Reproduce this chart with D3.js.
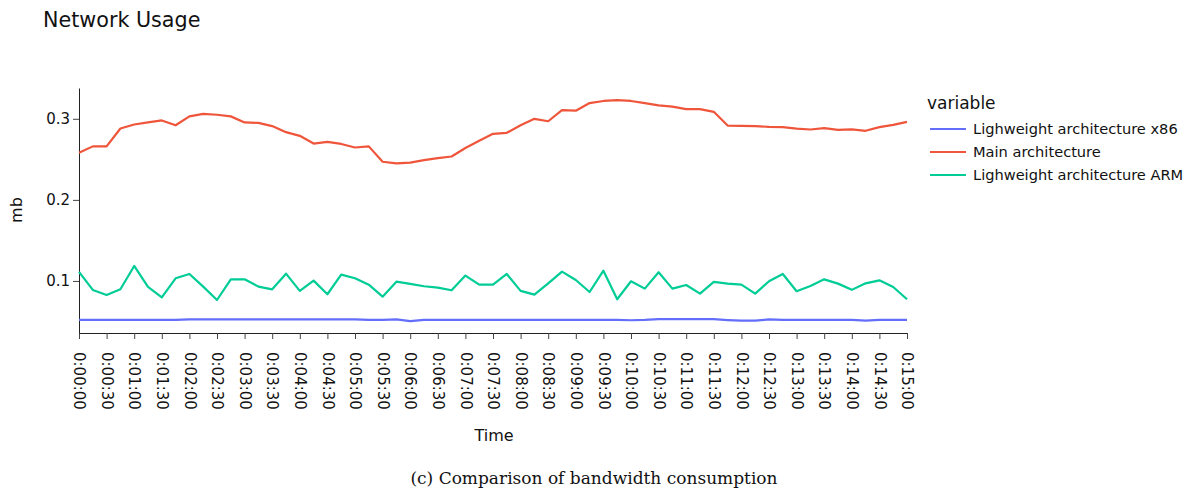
<!DOCTYPE html>
<html>
<head>
<meta charset="utf-8">
<script src="https://cdn.jsdelivr.net/npm/d3@7"></script>
<style>
  body { margin: 0; background: #fff; }
  svg text { font-family: "DejaVu Sans", Verdana, sans-serif; fill: #111; }
</style>
</head>
<body>
<div id="chart"></div>
<script>
// time in seconds, one sample every 15 s
var seconds = d3.range(0, 901, 15)

var x86 = [0.052, 0.052, 0.052, 0.052, 0.052, 0.052, 0.052, 0.052, 0.0525, 0.0525,
           0.0525, 0.0525, 0.0525, 0.0525, 0.0525, 0.0525, 0.0525, 0.0525, 0.0525, 0.0525,
           0.0525, 0.052, 0.052, 0.0525, 0.0505, 0.052, 0.052, 0.052, 0.052, 0.052,
           0.052, 0.052, 0.052, 0.052, 0.052, 0.052, 0.052, 0.052, 0.052, 0.052,
           0.0515, 0.052, 0.053, 0.0528, 0.0528, 0.0528, 0.0528, 0.0518, 0.051, 0.051,
           0.0525, 0.052, 0.052, 0.052, 0.052, 0.052, 0.052, 0.051, 0.052, 0.052, 0.052]

var mainArch = [0.258, 0.266, 0.266, 0.288, 0.293, 0.2955, 0.298, 0.292, 0.303, 0.306,
                0.305, 0.303, 0.2955, 0.295, 0.291, 0.2835, 0.279, 0.2695, 0.2716, 0.269,
                0.2646, 0.266, 0.247, 0.245, 0.246, 0.249, 0.2515, 0.2535, 0.264, 0.273,
                0.2815, 0.2827, 0.292, 0.300, 0.297, 0.3107, 0.310, 0.3194, 0.322, 0.323,
                0.322, 0.3194, 0.3165, 0.315, 0.312, 0.312, 0.3086, 0.2917, 0.2914, 0.291,
                0.290, 0.2897, 0.288, 0.2868, 0.2885, 0.2864, 0.287, 0.2852, 0.2897, 0.2926, 0.2963]

var arm = [0.1111, 0.0889, 0.0827, 0.0897, 0.1185, 0.0926, 0.0798, 0.1033, 0.1086, 0.093,
           0.0765, 0.102, 0.102, 0.093, 0.0897, 0.109, 0.0877, 0.1004, 0.0836, 0.1078,
           0.1033, 0.0954, 0.0806, 0.0991, 0.0963, 0.0935, 0.0918, 0.0885, 0.1066, 0.0954,
           0.0954, 0.1086, 0.0877, 0.0831, 0.0971, 0.1115, 0.1012, 0.0864, 0.1127, 0.0774,
           0.0996, 0.0905, 0.1107, 0.0905, 0.095, 0.0843, 0.0988, 0.0967, 0.0954, 0.0843,
           0.0996, 0.1086, 0.0873, 0.0938, 0.102, 0.0967, 0.089, 0.0971, 0.1008, 0.0926, 0.0774]

var seriesNames = ["Lighweight architecture x86", "Main architecture", "Lighweight architecture ARM"]
var seriesColors = ["#636efa", "#EF553B", "#00cc96"]
var yTicks = [0.1, 0.2, 0.3]
var xTicks = d3.range(0, 901, 30)

var series = [x86, mainArch, arm]

var width = 1190, height = 491
var plotLeft = 79, plotRight = 907, plotTop = 88, plotBottom = 333

var svg = d3.select("#chart").append("svg")
            .attr("width", width)
            .attr("height", height)

var x = d3.scaleLinear().domain([0, 900]).range([plotLeft, plotRight])
var y = d3.scaleLinear().domain([0.0358, 0.338]).range([plotBottom, plotTop])

function fmtTime(s) {
    var m = Math.floor(s / 60), sec = s % 60
    return "0:" + (m < 10 ? "0" : "") + m + ":" + (sec < 10 ? "0" : "") + sec
}

// x axis
var xAxis = svg.append("g")
               .attr("transform", "translate(0," + plotBottom + ")")
               .call(d3.axisBottom(x).tickValues(xTicks).tickFormat(fmtTime).tickSize(6).tickSizeOuter(0))
xAxis.select(".domain").attr("stroke", "#222")
xAxis.selectAll(".tick line").attr("stroke", "#444")
xAxis.selectAll(".tick text")
     .attr("font-size", 15)
     .attr("text-anchor", "start")
     .attr("dy", "0.35em")
     .attr("x", 0)
     .attr("y", 0)
     .attr("transform", "translate(0,19) rotate(90)")

// y axis
var yAxis = svg.append("g")
               .attr("transform", "translate(" + plotLeft + ",0)")
               .call(d3.axisLeft(y).tickValues(yTicks).tickFormat(d3.format(".1f")).tickSize(6).tickSizeOuter(0))
yAxis.select(".domain").attr("stroke", "#222")
yAxis.selectAll(".tick line").attr("stroke", "#444")
yAxis.selectAll(".tick text").attr("font-size", 15).attr("x", -9)

// lines
var line = d3.line()
             .x(function (d, i) { return x(seconds[i]) })
             .y(function (d) { return y(d) })

svg.selectAll(".series")
   .data(series)
   .enter().append("path")
   .attr("class", "series")
   .attr("d", line)
   .attr("fill", "none")
   .attr("stroke", function (d, i) { return seriesColors[i] })
   .attr("stroke-width", 2.2)
   .attr("stroke-linejoin", "round")

// titles
svg.append("text").attr("x", 43).attr("y", 27).attr("font-size", 20.7).text("Network Usage")
svg.append("text")
   .attr("transform", "translate(22,210) rotate(-90)")
   .attr("text-anchor", "middle")
   .attr("font-size", 16)
   .text("mb")
svg.append("text").attr("x", 494).attr("y", 441).attr("text-anchor", "middle").attr("font-size", 16).text("Time")

// legend
svg.append("text").attr("x", 927).attr("y", 109).attr("font-size", 17).text("variable")
var legend = svg.selectAll(".legend")
                .data(seriesNames)
                .enter().append("g")
                .attr("class", "legend")
                .attr("transform", function (d, i) { return "translate(930," + (129 + i * 23) + ")" })
legend.append("line")
      .attr("x1", 0).attr("x2", 36)
      .attr("stroke", function (d, i) { return seriesColors[i] })
      .attr("stroke-width", 2.2)
legend.append("text")
      .attr("x", 43).attr("dy", "0.35em")
      .attr("font-size", 14.6)
      .text(function (d) { return d })

// caption
svg.append("text")
   .attr("x", 594).attr("y", 484)
   .attr("text-anchor", "middle")
   .attr("font-size", 17)
   .style("font-family", "'DejaVu Serif', serif")
   .text("(c) Comparison of bandwidth consumption")
</script>
</body>
</html>
